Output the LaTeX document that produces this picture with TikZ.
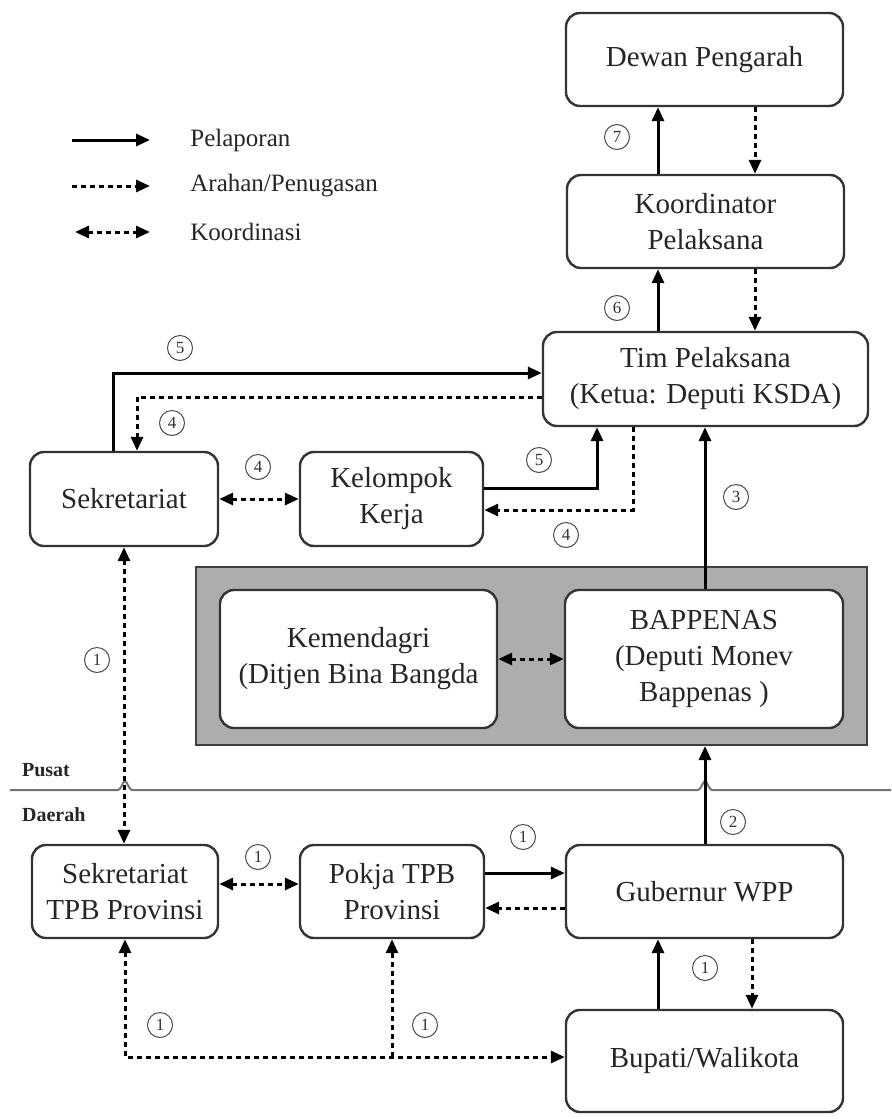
\documentclass[tikz,border=0pt]{standalone}
\usepackage{fontspec}
\setmainfont{Liberation Serif}
\usetikzlibrary{arrows.meta,positioning}
\tikzset{kotak/.style={draw=black!80, line width=1.2pt, rounded corners=7pt, fill=white,
      align=center, inner sep=2pt, text=black!85, font=\fontsize{14.5}{18}\selectfont}}
\tikzset{ujung/.tip={Triangle[length=7pt,width=6pt]}}
\tikzset{lapor/.style={line width=1.5pt, -ujung}}
\tikzset{arah/.style={line width=1.5pt, dash pattern=on 2.5pt off 2pt, -ujung}}
\tikzset{koord/.style={line width=1.5pt, dash pattern=on 2.5pt off 2pt, ujung-ujung}}
\tikzset{nomor/.style={circle, draw=black!70, line width=0.5pt, inner sep=0pt,
      minimum size=12.5pt, text=black!80, font=\fontsize{8.5}{10}\selectfont}}
\tikzset{keterangan/.style={anchor=west, inner sep=0pt, text=black!85, font=\fontsize{12.5}{14}\selectfont}}

\begin{document}
\begin{tikzpicture}[x=0.5pt,y=-0.5pt]
    \useasboundingbox (0,0) rectangle (891,1119);

    % legenda
    \coordinate (l1a) at (72,140);  \coordinate (l1b) at (150,140);
    \coordinate (l2a) at (72,186);  \coordinate (l2b) at (150,186);
    \coordinate (l3a) at (75,232);  \coordinate (l3b) at (150,232);
    \draw[lapor] (l1a) -- (l1b);
    \draw[arah] (l2a) -- (l2b);
    \draw[koord] (l3a) -- (l3b);
    \node[keterangan] (k1) at (190,140) {Pelaporan};
    \node[keterangan] (k2) at (190,186) {Arahan/Penugasan};
    \node[keterangan] (k3) at (190,232) {Koordinasi};

    % pusat
    \node[kotak, minimum width=138.5pt, minimum height=46.5pt] (dewan) at (704.5,59.5) {Dewan Pengarah};
    \node[kotak, minimum width=138.5pt, minimum height=46.5pt] (koordinator) at (705.5,221.5) {Koordinator\\Pelaksana};
    \node[kotak, minimum width=162.5pt, minimum height=47pt] (tim) at (705.5,379) {Tim Pelaksana\\(Ketua: Deputi KSDA)};
    \node[kotak, minimum width=94pt, minimum height=47pt] (sek) at (124,499) {Sekretariat};
    \node[kotak, minimum width=91.5pt, minimum height=47pt] (kel) at (391.5,499) {Kelompok\\Kerja};
    \node[draw=black!75, fill=black!32, line width=1pt, minimum width=335.5pt, minimum height=89pt] (grup) at (531.5,656) {};
    \node[kotak, minimum width=138.5pt, minimum height=69pt] (kemen) at (358.5,659) {Kemendagri\\(Ditjen Bina Bangda};
    \node[kotak, minimum width=139pt, minimum height=69pt] (bap) at (704,659) {BAPPENAS\\(Deputi Monev\\Bappenas )};

    % garis batas
    \draw[black!55, line width=1pt] (10,790) -- (118,790) .. controls (121,790) and (123,781) .. (125,781)
        .. controls (127,781) and (129,790) .. (132,790) -- (698,790)
        .. controls (701,790) and (703,781) .. (705,781) .. controls (707,781) and (709,790) .. (712,790) -- (891,790);
    \node[anchor=west, font=\bfseries\fontsize{10}{12}\selectfont, text=black!85] (pusat) at (15,770) {Pusat};
    \node[anchor=west, font=\bfseries\fontsize{10}{12}\selectfont, text=black!85] (daerah) at (15,815) {Daerah};

    % daerah
    \node[kotak, minimum width=93pt, minimum height=46.5pt] (sekprov) at (125,891.5) {Sekretariat\\TPB Provinsi};
    \node[kotak, minimum width=92pt, minimum height=46.5pt] (pokja) at (392,891.5) {Pokja TPB\\Provinsi};
    \node[kotak, minimum width=138.5pt, minimum height=46.5pt] (gub) at (704.5,891.5) {Gubernur WPP};
    \node[kotak, minimum width=138.5pt, minimum height=51pt] (bup) at (704.5,1061) {Bupati/Walikota};

    % alur pusat
    \draw[lapor] (658,0 |- koordinator.north) -- (658,0 |- dewan.south);
    \draw[arah] (755,0 |- dewan.south) -- (755,0 |- koordinator.north);
    \draw[lapor] (658,0 |- tim.north) -- (658,0 |- koordinator.south);
    \draw[arah] (755,0 |- koordinator.south) -- (755,0 |- tim.north);
    \draw[lapor] (113,0 |- sek.north) |- (tim.west |- 0,373);
    \draw[arah] (tim.west |- 0,397) -| (137,0 |- sek.north);
    \draw[koord] (sek.east) -- (kel.west);
    \draw[lapor] (kel.east |- 0,488) -| (597,0 |- tim.south);
    \draw[arah] (633,0 |- tim.south) |- (kel.east |- 0,510);
    \draw[lapor] (705,0 |- bap.north) -- (705,0 |- tim.south);
    \draw[koord] (kemen.east) -- (bap.west);

    % alur daerah
    \draw[lapor] (705,0 |- gub.north) -- (705,0 |- grup.south);
    \draw[koord] (sek.south) -- (sek.south |- sekprov.north);
    \draw[koord] (sekprov.east |- 0,884) -- (pokja.west |- 0,884);
    \draw[lapor] (pokja.east |- 0,873) -- (gub.west |- 0,873);
    \draw[arah] (gub.west |- 0,908) -- (pokja.east |- 0,908);
    \draw[lapor] (658,0 |- bup.north) -- (658,0 |- gub.south);
    \draw[arah] (752,0 |- gub.south) -- (752,0 |- bup.north);
    \draw[koord] (sekprov.south) |- (bup.west |- 0,1057);
    \coordinate (simpang) at (pokja.south |- 0,1057);
    \draw[arah] (simpang) -- (pokja.south);

    % nomor
    \node[nomor] (n7) at (617,137) {7};
    \node[nomor] (n6) at (617,308) {6};
    \node[nomor] (n5a) at (180,348) {5};
    \node[nomor] (n4a) at (172,423) {4};
    \node[nomor] (n4b) at (258,467) {4};
    \node[nomor] (n5b) at (539,460) {5};
    \node[nomor] (n4c) at (566,535) {4};
    \node[nomor] (n3) at (736,497) {3};
    \node[nomor] (n1a) at (97,660) {1};
    \node[nomor] (n2) at (733,822) {2};
    \node[nomor] (n1b) at (258,857) {1};
    \node[nomor] (n1c) at (523,837) {1};
    \node[nomor] (n1d) at (705,968) {1};
    \node[nomor] (n1e) at (160,1025) {1};
    \node[nomor] (n1f) at (425,1025) {1};
\end{tikzpicture}
\end{document}
